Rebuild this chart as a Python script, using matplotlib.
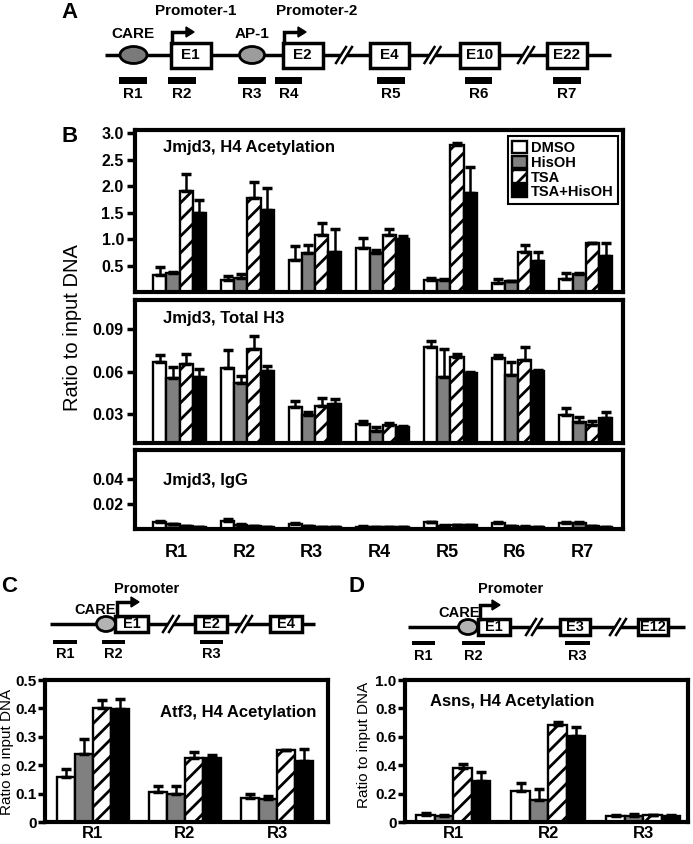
import numpy as np
import matplotlib.pyplot as plt
from matplotlib.patches import Rectangle, Ellipse, Polygon

plt.rcParams['font.family'] = ['Liberation Sans', 'DejaVu Sans']
plt.rcParams['font.weight'] = 'bold'
plt.rcParams['hatch.linewidth'] = 2.0

W, H = 693, 844

treatments = ['DMSO', 'HisOH', 'TSA', 'TSA+HisOH']
bar_colors = ['white', '#808080', 'white', 'black']
bar_hatches = [None, None, '//', None]

# panel B: Jmjd3 regions R1..R7
jmjd3_regions = ['R1', 'R2', 'R3', 'R4', 'R5', 'R6', 'R7']

h4_dmso = [0.32, 0.23, 0.61, 0.84, 0.23, 0.17, 0.24]
h4_hisoh = [0.36, 0.27, 0.73, 0.73, 0.22, 0.20, 0.34]
h4_tsa = [1.90, 1.77, 1.07, 1.07, 2.78, 0.76, 0.92]
h4_tsa_hisoh = [1.50, 1.55, 0.75, 1.00, 1.87, 0.59, 0.68]
h4_dmso_err = [0.15, 0.07, 0.25, 0.18, 0.03, 0.08, 0.12]
h4_hisoh_err = [0.01, 0.07, 0.15, 0.06, 0.02, 0.01, 0.02]
h4_tsa_err = [0.33, 0.30, 0.23, 0.12, 0.03, 0.13, 0.0]
h4_tsa_hisoh_err = [0.23, 0.41, 0.44, 0.06, 0.49, 0.17, 0.24]

h3_dmso = [0.0668, 0.0622, 0.0350, 0.0234, 0.0773, 0.0692, 0.0296]
h3_hisoh = [0.0553, 0.0522, 0.0296, 0.0185, 0.0564, 0.0576, 0.0245]
h3_tsa = [0.0650, 0.0760, 0.0360, 0.0227, 0.0700, 0.0680, 0.0227]
h3_tsa_hisoh = [0.0564, 0.0606, 0.0370, 0.0215, 0.0592, 0.0603, 0.0273]
h3_dmso_err = [0.0047, 0.0128, 0.0044, 0.0021, 0.0042, 0.0023, 0.0047]
h3_hisoh_err = [0.0081, 0.0048, 0.0024, 0.0025, 0.0193, 0.0092, 0.0040]
h3_tsa_err = [0.0070, 0.0090, 0.0053, 0.0013, 0.0020, 0.0089, 0.0029]
h3_tsa_hisoh_err = [0.0056, 0.0034, 0.0038, 0.0005, 0.0005, 0.0005, 0.0047]

igg_dmso = [0.0054, 0.0062, 0.0040, 0.0018, 0.0054, 0.0045, 0.0048]
igg_hisoh = [0.0036, 0.0035, 0.0020, 0.0015, 0.0025, 0.0020, 0.0045]
igg_tsa = [0.0020, 0.0020, 0.0015, 0.0015, 0.0030, 0.0018, 0.0020]
igg_tsa_hisoh = [0.0015, 0.0015, 0.0012, 0.0015, 0.0030, 0.0015, 0.0015]
igg_dmso_err = [0.0008, 0.0014, 0.0008, 0.0003, 0.0005, 0.0007, 0.0007]
igg_hisoh_err = [0.0003, 0.0003, 0.0002, 0.0002, 0.0003, 0.0002, 0.0007]
igg_tsa_err = [0.0002, 0.0002, 0.0002, 0.0002, 0.0002, 0.0002, 0.0002]
igg_tsa_hisoh_err = [0.0002, 0.0002, 0.0002, 0.0002, 0.0002, 0.0002, 0.0002]

# panels C and D: three regions each
small_regions = ['R1', 'R2', 'R3']

atf3_dmso = [0.160, 0.105, 0.084]
atf3_hisoh = [0.241, 0.099, 0.081]
atf3_tsa = [0.401, 0.227, 0.253]
atf3_tsa_hisoh = [0.399, 0.225, 0.214]
atf3_dmso_err = [0.028, 0.023, 0.016]
atf3_hisoh_err = [0.050, 0.029, 0.012]
atf3_tsa_err = [0.029, 0.020, 0.0]
atf3_tsa_hisoh_err = [0.034, 0.012, 0.042]

asns_dmso = [0.047, 0.219, 0.045]
asns_hisoh = [0.042, 0.153, 0.045]
asns_tsa = [0.377, 0.683, 0.048]
asns_tsa_hisoh = [0.290, 0.608, 0.045]
asns_dmso_err = [0.017, 0.059, 0.005]
asns_hisoh_err = [0.008, 0.078, 0.010]
asns_tsa_err = [0.031, 0.024, 0.002]
asns_tsa_hisoh_err = [0.063, 0.063, 0.005]


def add_axes_px(fig, x0, y0, x1, y1):
    return fig.add_axes([x0 / W, 1 - y1 / H, (x1 - x0) / W, (y1 - y0) / H])


def draw_bars(ax, means, errs, width=0.195):
    ind = np.arange(len(means[0]))
    rects = []
    for k in range(4):
        x = ind + (k - 1.5) * width
        r = ax.bar(x, means[k], width, color=bar_colors[k], edgecolor='black',
                   linewidth=1.7, hatch=bar_hatches[k], zorder=2)
        ax.errorbar(x, means[k], yerr=[np.zeros(len(x)), errs[k]], fmt='none',
                    ecolor='black', elinewidth=1.8, capsize=3.5, capthick=2.5, zorder=3)
        rects.append(r)
    return rects


def style_axes(ax, yticks, ylabels, fs=11.5):
    for s in ax.spines.values():
        s.set_linewidth(3)
    ax.set_yticks(yticks)
    ax.set_yticklabels(ylabels, fontsize=fs, fontweight='bold')
    ax.tick_params(axis='y', direction='out', length=6, width=2.5, pad=2)
    ax.tick_params(axis='x', length=0)
    ax.set_xticks([])


def draw_gene(ax, y, x0, x1, box_h, boxes, ovals, breaks, arrows, regions,
              bar_y, bar_h, label_y, fs=10):
    ax.plot([x0, x1], [y, y], color='black', lw=2.5, solid_capstyle='butt', zorder=1)
    for cx in breaks:
        # white gap between the two slashes
        ax.add_patch(Polygon([(cx - 7, y + 7), (cx + 1, y - 7), (cx + 5, y - 7), (cx - 3, y + 7)],
                             closed=True, fc='white', ec='none', zorder=2))
        ax.plot([cx - 9, cx + 1], [y + 8, y - 8], color='black', lw=1.8, zorder=3)
        ax.plot([cx - 3, cx + 7], [y + 8, y - 8], color='black', lw=1.8, zorder=3)
    for xa, xb, name in boxes:
        ax.add_patch(Rectangle((xa, y - box_h / 2), xb - xa, box_h, fc='white', ec='black',
                               lw=2.5, zorder=4))
        ax.text((xa + xb) / 2, y, name, ha='center', va='center', fontsize=fs,
                fontweight='bold', zorder=5)
    for cx, w, h, col, name, tx, ty in ovals:
        ax.add_patch(Ellipse((cx, y), w, h, fc=col, ec='black', lw=2, zorder=4))
        ax.text(tx, ty, name, ha='center', va='center', fontsize=fs, fontweight='bold')
    for xa, ya, yb, xe, name, tx, ty in arrows:
        ax.plot([xa, xa, xe - 6], [ya, yb, yb], color='black', lw=2.5,
                solid_joinstyle='miter', zorder=4)
        ax.add_patch(Polygon([(xe - 8, yb - 5), (xe - 8, yb + 5), (xe, yb)], closed=True,
                             fc='black', ec='black', lw=1, zorder=4))
        ax.text(tx, ty, name, ha='center', va='center', fontsize=fs, fontweight='bold')
    for xa, xb, name in regions:
        ax.add_patch(Rectangle((xa, bar_y - bar_h / 2), xb - xa, bar_h, fc='black', ec='none'))
        ax.text((xa + xb) / 2, label_y, name, ha='center', va='center', fontsize=fs,
                fontweight='bold')


fig = plt.figure(figsize=(W / 100, H / 100), dpi=100)

# overlay for the gene maps and panel letters, in pixel coordinates
diag = fig.add_axes([0, 0, 1, 1])
diag.set_xlim(0, W)
diag.set_ylim(H, 0)
diag.axis('off')

for letter, lx, ly in [('A', 70, 12), ('B', 70, 137), ('C', 9, 587), ('D', 356, 587)]:
    diag.text(lx, ly, letter, ha='center', va='center', fontsize=16, fontweight='bold')

# panel A gene map
draw_gene(diag, 55, 105, 611, 25,
          boxes=[(170.5, 211, 'E1'), (282.5, 322.5, 'E2'), (370, 409, 'E4'),
                 (460, 499, 'E10'), (547, 587, 'E22')],
          ovals=[(133.5, 27, 17, '#7a7a7a', 'CARE', 133, 34),
                 (252, 25, 17, '#9c9c9c', 'AP-1', 252, 34)],
          breaks=[345, 433.5, 527],
          arrows=[(172, 43, 32, 194, 'Promoter-1', 196, 11),
                  (284, 43, 32, 306, 'Promoter-2', 317, 11)],
          regions=[(119, 147, 'R1'), (168, 196, 'R2'), (238, 265.5, 'R3'), (275, 302, 'R4'),
                   (377, 405, 'R5'), (465, 492, 'R6'), (553, 581, 'R7')],
          bar_y=80.5, bar_h=7, label_y=94, fs=11)

# panel C gene map
draw_gene(diag, 624, 50, 315, 16,
          boxes=[(115, 148, 'E1'), (195, 227, 'E2'), (270, 302, 'E4')],
          ovals=[(106, 19, 15, '#b3b3b3', 'CARE', 95, 610)],
          breaks=[172, 245],
          arrows=[(117, 616, 602, 139, 'Promoter', 147, 589)],
          regions=[(53, 77, 'R1'), (102, 125, 'R2'), (200, 223, 'R3')],
          bar_y=642, bar_h=4, label_y=654, fs=10.5)

# panel D gene map
draw_gene(diag, 627, 408, 685, 16,
          boxes=[(478, 510, 'E1'), (560, 590, 'E3'), (638, 668, 'E12')],
          ovals=[(468, 19, 15, '#b3b3b3', 'CARE', 459, 613)],
          breaks=[535, 619],
          arrows=[(480, 619, 605, 500, 'Promoter', 511, 589)],
          regions=[(412, 435, 'R1'), (462, 485, 'R2'), (565, 590, 'R3')],
          bar_y=643, bar_h=4, label_y=656, fs=10.5)

# panel B: three stacked bar charts
ax1 = add_axes_px(fig, 135, 130, 623, 292)
ax2 = add_axes_px(fig, 135, 300, 623, 443)
ax3 = add_axes_px(fig, 135, 450, 623, 529)

rects = draw_bars(ax1, [h4_dmso, h4_hisoh, h4_tsa, h4_tsa_hisoh],
                  [h4_dmso_err, h4_hisoh_err, h4_tsa_err, h4_tsa_hisoh_err])
draw_bars(ax2, [h3_dmso, h3_hisoh, h3_tsa, h3_tsa_hisoh],
          [h3_dmso_err, h3_hisoh_err, h3_tsa_err, h3_tsa_hisoh_err])
draw_bars(ax3, [igg_dmso, igg_hisoh, igg_tsa, igg_tsa_hisoh],
          [igg_dmso_err, igg_hisoh_err, igg_tsa_err, igg_tsa_hisoh_err])

ax1.set_ylim(0, 3.06)
style_axes(ax1, [0.5, 1.0, 1.5, 2.0, 2.5, 3.0], ['0.5', '1.0', '1.5', '2.0', '2.5', '3.0'])
ax2.set_ylim(0.01, 0.11)
style_axes(ax2, [0.03, 0.06, 0.09], ['0.03', '0.06', '0.09'])
ax3.set_ylim(0, 0.063)
style_axes(ax3, [0.02, 0.04], ['0.02', '0.04'])
for ax in (ax1, ax2, ax3):
    ax.set_xlim(-0.66, 6.55)
ax3.set_xticks(np.arange(7) - 0.05)
ax3.set_xticklabels(jmjd3_regions, fontsize=13, fontweight='bold')
ax3.tick_params(axis='x', length=0, pad=11)

ax1.text(0.058, 0.89, 'Jmjd3, H4 Acetylation', transform=ax1.transAxes, fontsize=12,
         fontweight='bold', va='center')
ax2.text(0.058, 0.87, 'Jmjd3, Total H3', transform=ax2.transAxes, fontsize=12,
         fontweight='bold', va='center')
ax3.text(0.058, 0.62, 'Jmjd3, IgG', transform=ax3.transAxes, fontsize=12,
         fontweight='bold', va='center')

leg = ax1.legend(rects, treatments, loc='upper right', bbox_to_anchor=(0.99, 0.96),
                 borderaxespad=0, fancybox=False, edgecolor='black', framealpha=1,
                 prop={'weight': 'bold', 'size': 10.5}, handlelength=1.0, handleheight=0.9,
                 labelspacing=0.05, handletextpad=0.3, borderpad=0.3)
leg.get_frame().set_linewidth(1.5)

fig.text(72 / W, 1 - 328 / H, 'Ratio to input DNA', rotation=90, ha='center', va='center',
         fontsize=14.5, fontweight='normal')

# panel C
axc = add_axes_px(fig, 45, 680, 328, 822)
draw_bars(axc, [atf3_dmso, atf3_hisoh, atf3_tsa, atf3_tsa_hisoh],
          [atf3_dmso_err, atf3_hisoh_err, atf3_tsa_err, atf3_tsa_hisoh_err])
axc.set_ylim(0, 0.5)
axc.set_xlim(-0.515, 2.55)
style_axes(axc, [0, 0.1, 0.2, 0.3, 0.4, 0.5], ['0', '0.1', '0.2', '0.3', '0.4', '0.5'], fs=11)
axc.tick_params(axis='y', length=5, pad=1)
axc.set_xticks(np.arange(3))
axc.set_xticklabels(small_regions, fontsize=12, fontweight='bold')
axc.tick_params(axis='x', length=0, pad=3)
axc.text(0.96, 0.77, 'Atf3, H4 Acetylation', transform=axc.transAxes, ha='right',
         va='center', fontsize=12, fontweight='bold')
fig.text(7 / W, 1 - 752 / H, 'Ratio to input DNA', rotation=90, ha='center', va='center',
         fontsize=11, fontweight='normal')

# panel D
axd = add_axes_px(fig, 405, 680, 688, 822)
draw_bars(axd, [asns_dmso, asns_hisoh, asns_tsa, asns_tsa_hisoh],
          [asns_dmso_err, asns_hisoh_err, asns_tsa_err, asns_tsa_hisoh_err])
axd.set_ylim(0, 1.0)
axd.set_xlim(-0.51, 2.47)
style_axes(axd, [0, 0.2, 0.4, 0.6, 0.8, 1.0], ['0', '0.2', '0.4', '0.6', '0.8', '1.0'], fs=11)
axd.tick_params(axis='y', length=5, pad=1)
axd.set_xticks(np.arange(3))
axd.set_xticklabels(small_regions, fontsize=12, fontweight='bold')
axd.tick_params(axis='x', length=0, pad=3)
axd.text(0.09, 0.85, 'Asns, H4 Acetylation', transform=axd.transAxes, ha='left',
         va='center', fontsize=12, fontweight='bold')
fig.text(364 / W, 1 - 745 / H, 'Ratio to input DNA', rotation=90, ha='center', va='center',
         fontsize=11, fontweight='normal')

plt.savefig('out.png', dpi=100, facecolor='w', edgecolor='w')
